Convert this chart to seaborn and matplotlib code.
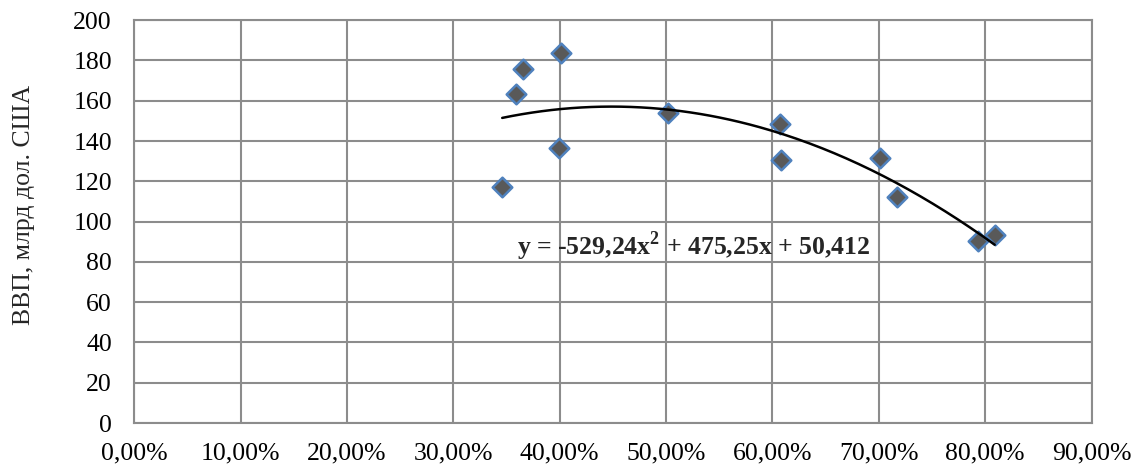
import numpy as np
import pandas as pd
import matplotlib
matplotlib.use("Agg")
import matplotlib.pyplot as plt
from matplotlib.ticker import FuncFormatter, MultipleLocator
import seaborn as sns

# share (fraction) vs GDP, bn USD
share = [0.346, 0.359, 0.366, 0.401, 0.399, 0.502, 0.607, 0.608, 0.701, 0.717, 0.793, 0.809]
gdp = [117.1, 163.3, 175.7, 183.6, 136.5, 153.8, 148.4, 130.5, 131.5, 112.2, 90.3, 93.3]
trend_coef = [-529.24, 475.25, 50.412]
trend_label = r"y = -529,24x$^{\mathbf{2}}$ + 475,25x + 50,412"
y_label = "ВВП, млрд дол. США"

df = pd.DataFrame({"share": share, "gdp": gdp})

sns.set_style("white")
plt.rcParams["font.family"] = ["Liberation Serif", "DejaVu Serif"]
plt.rcParams["mathtext.fontset"] = "custom"
plt.rcParams["mathtext.rm"] = "Liberation Serif"
plt.rcParams["mathtext.bf"] = "Liberation Serif:bold"

fs = 18.5
fig = plt.figure(figsize=(11.37, 4.70), dpi=100)
ax = fig.add_axes([0.118, 0.10, 0.842, 0.857])

grid_c = "#8c8c8c"
ax.grid(True, color=grid_c, linewidth=1.5)
ax.set_axisbelow(True)

sns.scatterplot(data=df, x="share", y="gdp", marker="D", s=100,
                color="#595959", edgecolor="#4f81bd", linewidth=1.8,
                zorder=3, ax=ax)

xs = np.linspace(min(share), max(share), 200)
ax.plot(xs, np.polyval(trend_coef, xs), color="black", linewidth=1.8, zorder=4)

ax.text(0.36, 88, trend_label, fontsize=fs, fontweight="bold",
        va="center", ha="left", zorder=5)

ax.set_xlim(0, 0.9)
ax.set_ylim(0, 200)
ax.xaxis.set_major_locator(MultipleLocator(0.1))
ax.yaxis.set_major_locator(MultipleLocator(20))
ax.xaxis.set_major_formatter(FuncFormatter(lambda v, p: f"{v*100:.2f}%".replace(".", ",")))

for s in ax.spines.values():
    s.set_color(grid_c)
    s.set_linewidth(1.5)
ax.tick_params(axis="both", colors=grid_c, length=5, width=1.5, direction="out",
               labelcolor="black", labelsize=fs)
ax.tick_params(axis="x", pad=9)
ax.tick_params(axis="y", pad=11)

ax.set_xlabel("")
ax.set_ylabel("")
fig.text(24 / 1137, 0.564, y_label, fontsize=fs, rotation=90, ha="center", va="center")

fig.savefig("out.png", dpi=100)
